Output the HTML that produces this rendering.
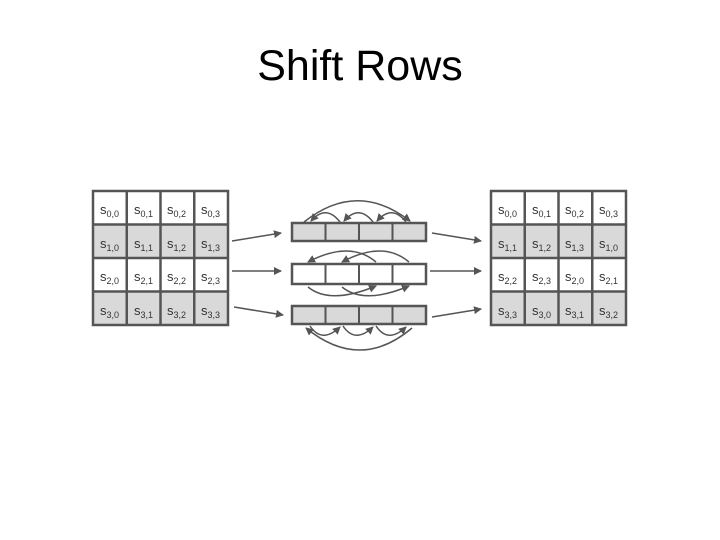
<!DOCTYPE html>
<html><head><meta charset="utf-8"><style>
html,body{margin:0;padding:0;background:#fff;}
body{width:720px;height:540px;overflow:hidden;position:relative;font-family:"Liberation Sans",sans-serif;}
.t{position:absolute;left:0;width:720px;top:42px;text-align:center;font-size:43px;color:#000;}
</style></head><body>
<div class="t">Shift Rows</div>
<svg width="720" height="540" style="position:absolute;left:0;top:0" xmlns="http://www.w3.org/2000/svg">
<defs>
<marker id="a" markerWidth="8" markerHeight="8" refX="7" refY="4" orient="auto" markerUnits="userSpaceOnUse">
<path d="M0,0 L8,4 L0,8 z" fill="#555"/></marker>
</defs>
<g font-family="Liberation Sans, sans-serif" fill="#333">
<!-- left grid -->
<g id="lg">
<rect x="93" y="191" width="135" height="33.5" fill="#fff"/>
<rect x="93" y="224.5" width="135" height="33.5" fill="#d9d9d9"/>
<rect x="93" y="258" width="135" height="33.5" fill="#fff"/>
<rect x="93" y="291.5" width="135" height="33.5" fill="#d9d9d9"/>
</g>
<rect x="491" y="191" width="135" height="33.5" fill="#fff"/>
<rect x="491" y="224.5" width="135" height="33.5" fill="#d9d9d9"/>
<rect x="491" y="258" width="135" height="33.5" fill="#fff"/>
<rect x="491" y="291.5" width="135" height="33.5" fill="#d9d9d9"/>
<g stroke="#555" stroke-width="2.5" fill="none">
<rect x="93" y="191" width="135" height="134"/>
<path d="M126.75,191V325M160.5,191V325M194.25,191V325M93,224.5H228M93,258H228M93,291.5H228"/>
<rect x="491" y="191" width="135" height="134"/>
<path d="M524.75,191V325M558.5,191V325M592.25,191V325M491,224.5H626M491,258H626M491,291.5H626"/>
</g>
<!-- bars -->
<rect x="292" y="223" width="134" height="18" fill="#d9d9d9" stroke="#555" stroke-width="2.5"/>
<rect x="292" y="264" width="134" height="20" fill="#fff" stroke="#555" stroke-width="2.5"/>
<rect x="292" y="306" width="134" height="18" fill="#d9d9d9" stroke="#555" stroke-width="2.5"/>
<g stroke="#555" stroke-width="2">
<path d="M325.5,223V241M359,223V241M392.5,223V241M325.5,264V284M359,264V284M392.5,264V284M325.5,306V324M359,306V324M392.5,306V324"/>
</g>
<!-- connector arrows -->
<g stroke="#555" stroke-width="1.5" fill="none" marker-end="url(#a)">
<path d="M232,241 L281,233"/>
<path d="M232,271 L281,271"/>
<path d="M234,307 L283,315"/>
<path d="M432,233 L481,241"/>
<path d="M430,271 L481,271"/>
<path d="M432,317 L481,309"/>
<!-- row1 -->
<path d="M340,222 Q326,204 311,221"/>
<path d="M373,222 Q359,204 344,221"/>
<path d="M406,222 Q392,204 377,221"/>
<path d="M304,222 Q357,180 410,221"/>
<!-- row2 -->
<path d="M376,262 Q350,240 308,262"/>
<path d="M409,262 Q383,240 342,262"/>
<path d="M308,287 Q330,305 376,286"/>
<path d="M342,287 Q364,305 409,286"/>
<!-- row3 -->
<path d="M310,326 Q322,344 340,327"/>
<path d="M343,326 Q355,344 373,327"/>
<path d="M376,326 Q388,344 406,327"/>
<path d="M412,328 Q360,372 306,328"/>
</g>
<!-- labels -->
<g font-size="13">
<text x="100" y="214">s<tspan font-size="9" dy="3">0,0</tspan></text>
<text x="134" y="214">s<tspan font-size="9" dy="3">0,1</tspan></text>
<text x="167" y="214">s<tspan font-size="9" dy="3">0,2</tspan></text>
<text x="201" y="214">s<tspan font-size="9" dy="3">0,3</tspan></text>
<text x="100" y="248">s<tspan font-size="9" dy="3">1,0</tspan></text>
<text x="134" y="248">s<tspan font-size="9" dy="3">1,1</tspan></text>
<text x="167" y="248">s<tspan font-size="9" dy="3">1,2</tspan></text>
<text x="201" y="248">s<tspan font-size="9" dy="3">1,3</tspan></text>
<text x="100" y="281">s<tspan font-size="9" dy="3">2,0</tspan></text>
<text x="134" y="281">s<tspan font-size="9" dy="3">2,1</tspan></text>
<text x="167" y="281">s<tspan font-size="9" dy="3">2,2</tspan></text>
<text x="201" y="281">s<tspan font-size="9" dy="3">2,3</tspan></text>
<text x="100" y="315">s<tspan font-size="9" dy="3">3,0</tspan></text>
<text x="134" y="315">s<tspan font-size="9" dy="3">3,1</tspan></text>
<text x="167" y="315">s<tspan font-size="9" dy="3">3,2</tspan></text>
<text x="201" y="315">s<tspan font-size="9" dy="3">3,3</tspan></text>

<text x="498" y="214">s<tspan font-size="9" dy="3">0,0</tspan></text>
<text x="532" y="214">s<tspan font-size="9" dy="3">0,1</tspan></text>
<text x="565" y="214">s<tspan font-size="9" dy="3">0,2</tspan></text>
<text x="599" y="214">s<tspan font-size="9" dy="3">0,3</tspan></text>
<text x="498" y="248">s<tspan font-size="9" dy="3">1,1</tspan></text>
<text x="532" y="248">s<tspan font-size="9" dy="3">1,2</tspan></text>
<text x="565" y="248">s<tspan font-size="9" dy="3">1,3</tspan></text>
<text x="599" y="248">s<tspan font-size="9" dy="3">1,0</tspan></text>
<text x="498" y="281">s<tspan font-size="9" dy="3">2,2</tspan></text>
<text x="532" y="281">s<tspan font-size="9" dy="3">2,3</tspan></text>
<text x="565" y="281">s<tspan font-size="9" dy="3">2,0</tspan></text>
<text x="599" y="281">s<tspan font-size="9" dy="3">2,1</tspan></text>
<text x="498" y="315">s<tspan font-size="9" dy="3">3,3</tspan></text>
<text x="532" y="315">s<tspan font-size="9" dy="3">3,0</tspan></text>
<text x="565" y="315">s<tspan font-size="9" dy="3">3,1</tspan></text>
<text x="599" y="315">s<tspan font-size="9" dy="3">3,2</tspan></text>
</g>
</g>
</svg>
</body></html>
